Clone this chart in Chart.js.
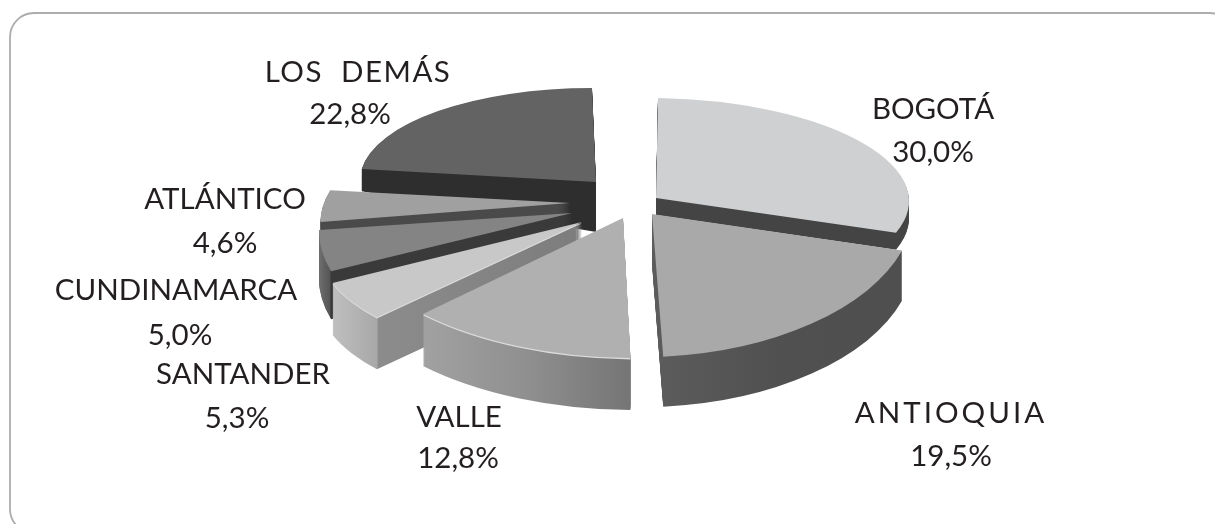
<!DOCTYPE html>
<html>
<head>
<meta charset="utf-8">
<style>
html,body{margin:0;padding:0;background:#fff;width:1215px;height:524px;overflow:hidden}
#wrap{position:relative;width:1215px;height:524px}
</style>
<script src="https://cdn.jsdelivr.net/npm/chart.js@4"></script>
</head>
<body>
<div id="wrap"><canvas id="c" width="1215" height="524"></canvas></div>
<script>
const categories = ['BOGOTÁ','ANTIOQUIA','VALLE','SANTANDER','CUNDINAMARCA','ATLÁNTICO','LOS  DEMÁS'];
const shares = [30.0,19.5,12.8,5.3,5.0,4.6,22.8];
const shareLabels = ['30,0%','19,5%','12,8%','5,3%','5,0%','4,6%','22,8%'];
const topColors = ['#cfd0d1','#a9a9a9','#b0b0b0','#c8c8c8','#848484','#a0a0a0','#636363'];

// Perspective pose of each exploded slice (page position of its tip, radii, shears, wall depth)
const poses = [
  {x:656,y:198,rx:253,ry:100,k:4,c:-2,  depth:17,dk:0,   order:5, walls:[[650,'#444'],[910,'#444']]},
  {x:652,y:214,rx:262,ry:143,k:-8,c:3,  depth:50,dk:0,   order:6, walls:[[650,'#5c5c5c'],[780,'#505050'],[910,'#4f4f4f']]},
  {x:623,y:218,rx:285,ry:140,k:6,c:-1.5,depth:52,dk:0,   order:4, hi:'#dcdcdc', walls:[[420,'#a2a2a2'],[530,'#8f8f8f'],[632,'#757575']]},
  {x:582,y:222,rx:265,ry:130,k:-3,c:-28,depth:52,dk:0,   order:3, hi:'#dcdcdc', walls:[[340,'#c2c2c2'],[397,'#a8a8a8'],[398,'#8c8c8c'],[585,'#7c7c7c']]},
  {x:572,y:213,rx:250,ry:137,k:3.6,c:-39,depth:48,dk:0,  order:2, walls:[[330,'#6c6c6c'],[347,'#555'],[348,'#3a3a3a'],[575,'#3a3a3a']]},
  {x:570,y:203,rx:247,ry:110,k:-2.5,c:-35,depth:11,dk:0, order:1, walls:[[318,'#4a4a4a'],[575,'#4a4a4a']]},
  {x:596,y:182,rx:236,ry:94, k:0,c:4,   depth:50,dk:.119,order:0, walls:[[350,'#2e2e2e'],[600,'#2e2e2e']]}
];

const labelPlaces = [
  {x:933,y:109,py:152},{x:951,y:413,py:456,ls:'3px'},{x:459,y:417,px:458,py:458},
  {x:243,y:374,px:237,py:418},{x:176,y:290,px:180,py:335},{x:225,y:199,py:243},{x:358,y:72,px:350,py:114,ls:'1.5px'}
];

function poseTransform(ctx, el, p, d, dk){
  const R = el.outerRadius;
  const sx = p.rx/R, sy = p.ry/R, sk = (p.k + (dk||0)*p.rx)/R, cs = (p.c||0)/R;
  ctx.transform(sx, sk, cs, sy, p.x - sx*el.x - cs*el.y, p.y + (d||0) - sk*el.x - sy*el.y);
}
function wallFill(ctx, el, p){
  const R = el.outerRadius, sx = p.rx/R;
  const toLocal = px => el.x + (px - p.x)/sx;
  const a = p.walls[0][0], b = p.walls[p.walls.length-1][0];
  const g = ctx.createLinearGradient(toLocal(a),0,toLocal(b),0);
  p.walls.forEach(w => g.addColorStop((w[0]-a)/(b-a), w[1]));
  return g;
}
function drawWith(ctx, el, fill){
  const o = el.options;
  el.options = Object.assign({}, o, {backgroundColor:fill, borderWidth:0, offset:0});
  el.draw(ctx);
  el.options = o;
}

const frame3d = {
  id:'frame3d',
  beforeDraw(chart){
    const c = chart.ctx;
    c.save();
    c.fillStyle='#fff'; c.fillRect(0,0,chart.width,chart.height);
    c.strokeStyle='#adadad'; c.lineWidth=1.8;
    c.beginPath(); c.roundRect(10,13,1224,520,24); c.stroke();
    c.restore();
  },
  beforeDatasetsDraw(chart){
    const ctx = chart.ctx, arcs = chart.getDatasetMeta(0).data;
    const seq = poses.map((p,i)=>i).sort((a,b)=>poses[a].order-poses[b].order);
    seq.forEach(i=>{
      const el = arcs[i], p = poses[i];
      ctx.save();
      for(let d=p.depth;d>0;d-=1){
        ctx.save();
        poseTransform(ctx, el, p, d, (p.dk||0)*d/p.depth);
        drawWith(ctx, el, wallFill(ctx, el, p));
        ctx.restore();
      }
      if(p.hi){
        ctx.save(); poseTransform(ctx, el, p, 1.3, 0); drawWith(ctx, el, p.hi); ctx.restore();
      }
      ctx.save(); poseTransform(ctx, el, p, 0, 0); drawWith(ctx, el, el.options.backgroundColor); ctx.restore();
      ctx.restore();
    });
    return false;
  },
  afterDraw(chart){
    const c = chart.ctx;
    c.save();
    c.fillStyle='#231f20';
    c.font='29.5px Lato, "Open Sans", sans-serif';
    c.textAlign='center'; c.textBaseline='middle';
    categories.forEach((name,i)=>{
      const l = labelPlaces[i];
      c.letterSpacing = l.ls || '0px';
      c.fillText(name, l.x, l.y);
      c.letterSpacing = '0px';
      c.fillText(shareLabels[i], l.px||l.x, l.py);
    });
    c.restore();
  }
};

new Chart(document.getElementById('c'),{
  type:'pie',
  data:{labels:categories,datasets:[{data:shares,backgroundColor:topColors,borderWidth:0}]},
  options:{
    responsive:false,animation:false,
    plugins:{legend:{display:false},tooltip:{enabled:false}},
    layout:{padding:0}
  },
  plugins:[frame3d]
});
</script>
</body>
</html>
